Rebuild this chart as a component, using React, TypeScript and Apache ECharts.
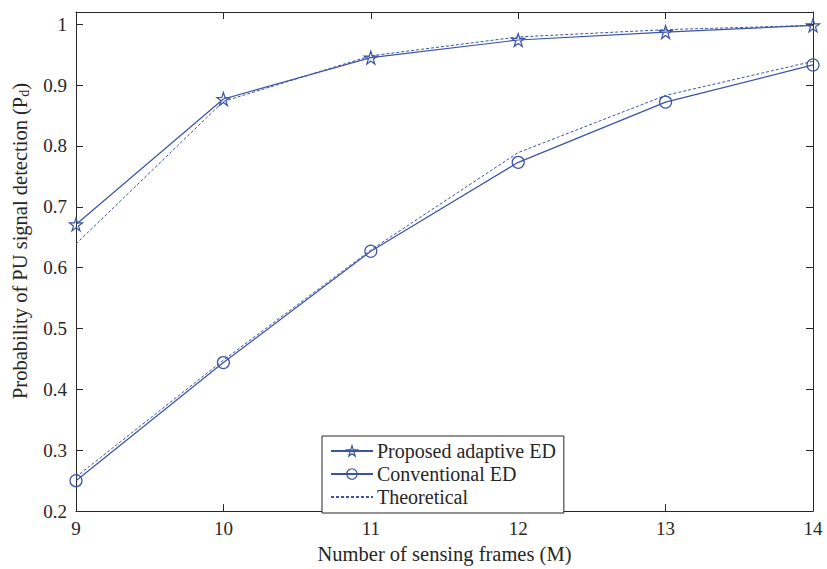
import React, { useEffect, useRef } from "react";
import * as echarts from "echarts";

const frames = [9, 10, 11, 12, 13, 14];
const proposed = [0.671, 0.877, 0.945, 0.974, 0.987, 0.998];
const conventional = [0.25, 0.444, 0.627, 0.773, 0.872, 0.933];
const theoreticalHigh = [0.639, 0.873, 0.948, 0.979, 0.991, 0.998];
const theoreticalLow = [0.256, 0.448, 0.629, 0.789, 0.883, 0.939];

const BLUE = "#3a53a4";
const AXIS = "#262626";
const FONT = "Liberation Serif";
const STAR =
  "path://M0,-10 L2.245,-3.09 L9.51,-3.09 L3.633,1.18 L5.878,8.09 L0,3.82 L-5.878,8.09 L-3.633,1.18 L-9.51,-3.09 L-2.245,-3.09 Z";

const pairs = (ys: number[]) => frames.map((x, i) => [x, ys[i]]);

export default function App() {
  const ref = useRef<HTMLDivElement>(null);
  useEffect(() => {
    if (!ref.current) return;
    const chart = echarts.init(ref.current, null, { renderer: "svg" });
    const axisCommon = {
      axisLine: { show: true, lineStyle: { color: AXIS, width: 1 } },
      axisTick: { show: true, inside: true, length: 7, lineStyle: { color: AXIS } },
      splitLine: { show: false },
    };
    const hollow = { color: "rgba(255,255,255,0)", borderColor: BLUE, borderWidth: 1.2 };
    chart.setOption({
      animation: false,
      backgroundColor: "#fff",
      textStyle: { fontFamily: FONT },
      grid: { left: 76, width: 737, top: 12, height: 508, containLabel: false },
      graphic: [
        {
          type: "text",
          x: 20,
          y: 241,
          rotation: Math.PI / 2,
          style: {
            text: "Probability of PU signal detection (P{sub|d})",
            fontSize: 20.5,
            fontFamily: FONT,
            fill: AXIS,
            align: "center",
            verticalAlign: "middle",
            rich: {
              sub: { fontSize: 14, fontFamily: FONT, fill: AXIS, verticalAlign: "bottom", padding: [8, 0, 0, 0] },
            },
          },
        },
      ],
      xAxis: [
        {
          type: "value",
          min: 9,
          max: 14,
          interval: 1,
          ...axisCommon,
          axisLabel: { color: AXIS, fontSize: 19, fontFamily: FONT, margin: 8 },
          name: "Number of sensing frames (M)",
          nameLocation: "middle",
          nameGap: 29,
          nameTextStyle: { color: AXIS, fontSize: 20.5, fontFamily: FONT },
        },
        {
          type: "value",
          position: "top",
          min: 9,
          max: 14,
          interval: 1,
          ...axisCommon,
          axisLabel: { show: false },
        },
      ],
      yAxis: [
        {
          type: "value",
          min: 0.2,
          max: 1.02,
          interval: 0.1,
          ...axisCommon,
          axisLabel: {
            color: AXIS,
            fontSize: 19,
            fontFamily: FONT,
            margin: 9,
            formatter: (v: number) =>
              Math.abs(v * 10 - Math.round(v * 10)) < 1e-6 ? String(Math.round(v * 10) / 10) : "",
          },
        },
        {
          type: "value",
          position: "right",
          min: 0.2,
          max: 1.02,
          interval: 0.1,
          ...axisCommon,
          axisLabel: { show: false },
        },
      ],
      legend: {
        left: 322,
        top: 436,
        orient: "vertical",
        backgroundColor: "#fff",
        borderColor: AXIS,
        borderWidth: 1,
        padding: [5, 8, 6, 8],
        itemWidth: 42,
        itemHeight: 13,
        itemGap: 3,
        textStyle: { fontSize: 20, fontFamily: FONT, color: AXIS, lineHeight: 20, padding: [0, 0, 0, -1] },
        data: [
          { name: "Proposed adaptive ED", itemStyle: hollow },
          { name: "Conventional ED", itemStyle: hollow },
          { name: "Theoretical", itemStyle: { color: "rgba(255,255,255,0)", borderWidth: 0 } },
        ],
      },
      series: [
        {
          name: "Proposed adaptive ED",
          type: "line",
          data: pairs(proposed),
          symbol: STAR,
          symbolSize: 13,
          showAllSymbol: true,
          lineStyle: { color: BLUE, width: 1.2 },
          itemStyle: hollow,
          z: 3,
        },
        {
          name: "Conventional ED",
          type: "line",
          data: pairs(conventional),
          symbol: "circle",
          symbolSize: 12,
          lineStyle: { color: BLUE, width: 1.2 },
          itemStyle: hollow,
          z: 3,
        },
        {
          name: "Theoretical",
          type: "line",
          data: pairs(theoreticalHigh),
          symbol: "none",
          lineStyle: { color: BLUE, width: 1, type: [3, 2] },
          itemStyle: { color: "rgba(255,255,255,0)" },
          z: 2,
        },
        {
          name: "Theoretical",
          type: "line",
          data: pairs(theoreticalLow),
          symbol: "none",
          lineStyle: { color: BLUE, width: 1, type: [3, 2] },
          itemStyle: { color: "rgba(255,255,255,0)" },
          z: 2,
        },
      ],
    });
    return () => chart.dispose();
  }, []);
  return <div ref={ref} style={{ width: 827, height: 569, position: "absolute", left: 0, top: 0 }} />;
}
